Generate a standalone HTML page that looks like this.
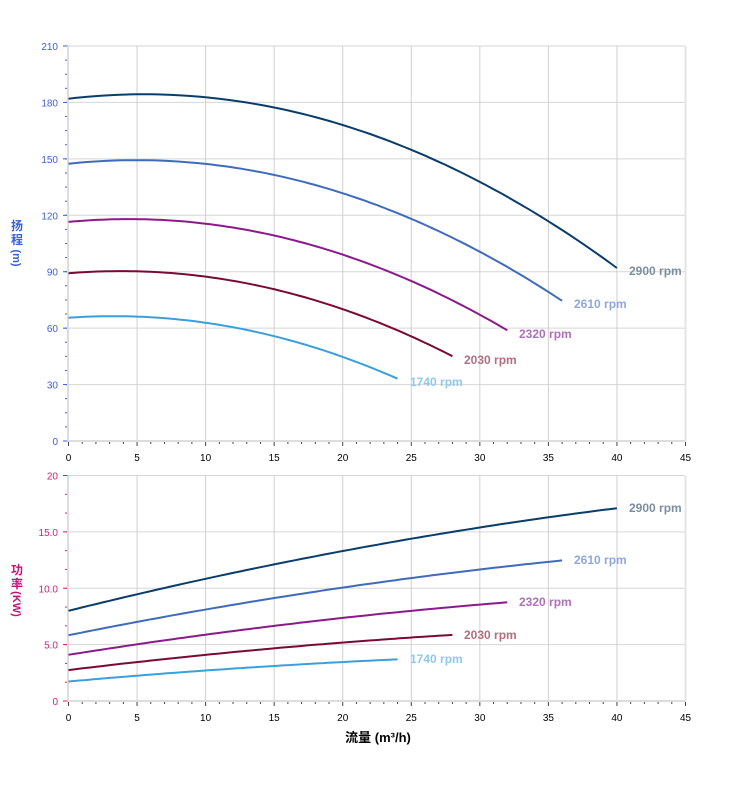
<!DOCTYPE html>
<html><head><meta charset="utf-8"><style>
html,body{margin:0;padding:0;background:#fff;}
svg{display:block;font-family:"Liberation Sans","Noto Sans CJK SC",sans-serif;}
</style></head><body>
<svg id="s" width="752" height="797" viewBox="0 0 752 797" xmlns="http://www.w3.org/2000/svg">
<g id="grid"></g>
<g id="curves" fill="none" stroke-width="2"></g>
<g font-size="12" font-weight="bold">
<text x="629" y="275" fill="#7c8ea0">2900 rpm</text>
<text x="574" y="308" fill="#8fa8d8">2610 rpm</text>
<text x="519" y="338" fill="#b070b8">2320 rpm</text>
<text x="464" y="364" fill="#b07080">2030 rpm</text>
<text x="410" y="386" fill="#90c8ec">1740 rpm</text>
<text x="629" y="512" fill="#7c8ea0">2900 rpm</text>
<text x="574" y="564" fill="#8fa8d8">2610 rpm</text>
<text x="519" y="606" fill="#b070b8">2320 rpm</text>
<text x="464" y="639" fill="#b07080">2030 rpm</text>
<text x="410" y="663" fill="#90c8ec">1740 rpm</text>
</g>
<g font-size="12" font-weight="bold" fill="#3a5fd8">
<text x="17" y="230" text-anchor="middle">扬</text>
<text x="17" y="244" text-anchor="middle">程</text>
<text x="17" y="262" text-anchor="middle" font-size="11" transform="rotate(90 17 258)">(m)</text>
</g>
<g font-size="12" font-weight="bold" fill="#c8107a">
<text x="17" y="574" text-anchor="middle">功</text>
<text x="17" y="588" text-anchor="middle">率</text>
<text x="17" y="608" text-anchor="middle" font-size="11" transform="rotate(90 17 604)">(KW)</text>
</g>
<text x="378" y="742" text-anchor="middle" font-size="13" font-weight="bold" fill="#000">流量 (m³/h)</text>
</svg>
<script>
var NS="http://www.w3.org/2000/svg";
var g=document.getElementById('grid'),c=document.getElementById('curves');
function el(p,t,a){var e=document.createElementNS(NS,t);for(var k in a)e.setAttribute(k,a[k]);p.appendChild(e);return e;}
var X0=68.5,XS=617/45;
function px(q){return X0+q*XS;}
function panel(top,bot,ymax,step,minor,col,fmt){
 var ys=(bot-top)/ymax;
 for(var v=0;v<=ymax+1e-9;v+=step){var y=bot-v*ys;
  el(g,'line',{x1:X0,x2:685,y1:y,y2:y,stroke:'#d6d6d6','stroke-width':1});
  el(g,'line',{x1:63,x2:68,y1:y,y2:y,stroke:col,'stroke-width':1});
  var t=el(g,'text',{x:58,y:y+4,'text-anchor':'end','font-size':'10',fill:col});t.textContent=fmt(v);}
 for(var v=0;v<=ymax+1e-9;v+=minor){var y=bot-v*ys;el(g,'line',{x1:65,x2:68,y1:y,y2:y,stroke:col,'stroke-width':1});}
 for(var q=0;q<=45;q+=5){var x=px(q);el(g,'line',{x1:x,x2:x,y1:top,y2:bot,stroke:'#d0d0d0','stroke-width':1});
  var t=el(g,'text',{x:x,y:bot+20,'text-anchor':'middle','font-size':'10',fill:'#000'});t.textContent=q;}
 for(var q=0;q<=45;q++){var x=px(q);el(g,'line',{x1:x,x2:x,y1:bot,y2:bot+(q%5?3:5),stroke:'#444','stroke-width':1});}
 el(g,'line',{x1:68,x2:68,y1:top,y2:bot,stroke:'#ddd','stroke-width':2});
 el(g,'line',{x1:68,x2:686,y1:bot,y2:bot,stroke:'#ddd','stroke-width':2});
 el(g,'line',{x1:685.5,x2:685.5,y1:top,y2:bot,stroke:'#e4e4e4','stroke-width':2});
 return ys;
}
var ysT=panel(46,441,210,30,7.5,'#3a5fd8',function(v){return v;});
var ysB=panel(475.5,701,20,5,5/3,'#d0207a',function(v){return v==0?'0':(v==20?'20':v.toFixed(1));});
var sp=[[2900,'#0a3d6b'],[2610,'#3f6bbd'],[2320,'#8b1a8b'],[2030,'#7a0a35'],[1740,'#3aa0dc']];
sp.forEach(function(s){var r=s[0]/2900,qm=40*r,dH='',dP='';
 for(var i=0;i<=80;i++){var q=qm*i/80;
  var H=182*r*r+0.85*r*q-0.0775*q*q;
  var P=8*r*r*r+0.3025*r*r*q-0.001875*r*q*q;
  dH+=(i?'L':'M')+px(q).toFixed(1)+' '+(441-H*ysT).toFixed(1);
  dP+=(i?'L':'M')+px(q).toFixed(1)+' '+(701-P*ysB).toFixed(1);}
 el(c,'path',{d:dH,stroke:s[1]});el(c,'path',{d:dP,stroke:s[1]});});
</script>
</body></html>
